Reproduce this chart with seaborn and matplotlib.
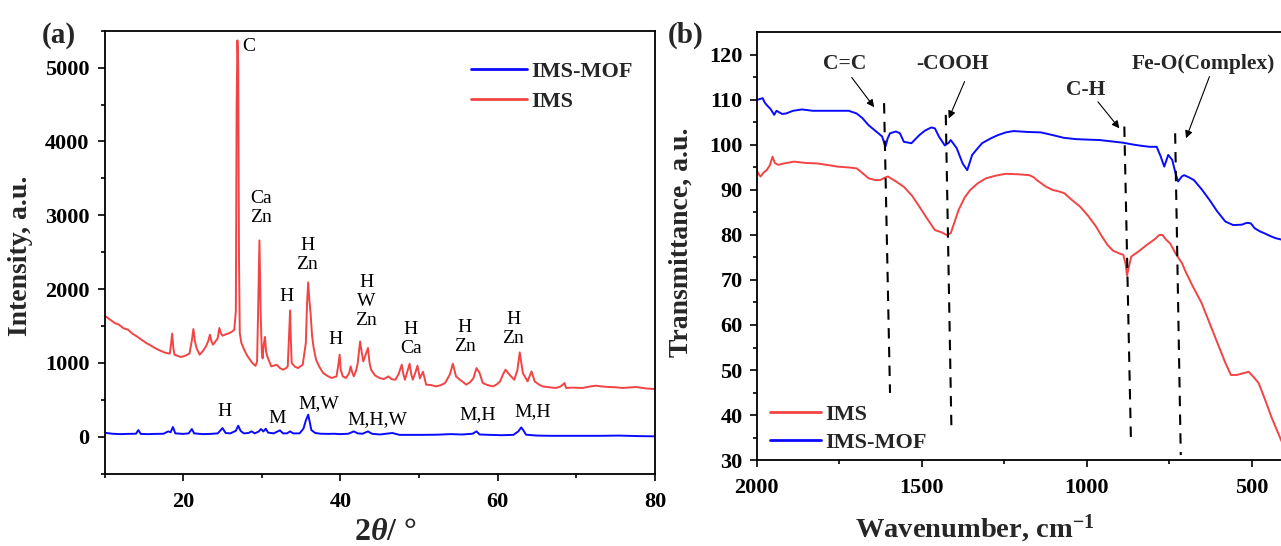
import matplotlib
matplotlib.use("Agg")
import matplotlib.pyplot as plt
from matplotlib.ticker import MultipleLocator, FixedLocator
import numpy as np
import pandas as pd
import seaborn as sns

# ---------------- XRD data (panel a) ----------------
ims_2theta = [10.0, 10.25, 10.8, 11.3, 11.8, 12.4, 13.0, 13.5, 14.1, 14.7, 15.3, 15.9, 16.4, 17.0,
              17.6, 18.3, 18.45, 18.6, 18.75, 18.9, 19.3, 19.7, 20.2, 20.8, 21.1, 21.3, 21.5, 21.7,
              22.1, 22.5, 22.9, 23.2, 23.4, 23.6, 23.8, 24.1, 24.4, 24.6, 24.8, 25.0, 25.5, 25.9,
              26.3, 26.5, 26.7, 26.8, 26.9, 27.0, 27.1, 27.2, 27.4, 27.8, 28.2, 28.8, 29.2, 29.4,
              29.55, 29.7, 29.85, 30.0, 30.1, 30.25, 30.4, 30.55, 30.7, 31.2, 31.9, 32.3, 32.7, 33.1,
              33.3, 33.45, 33.6, 33.7, 33.8, 34.2, 34.6, 35.2, 35.6, 35.75, 35.9, 36.05, 36.2, 36.4,
              36.6, 36.9, 37.3, 37.8, 38.4, 38.9, 39.5, 39.7, 39.9, 40.05, 40.3, 40.7, 41.1, 41.3,
              41.5, 41.7, 42.0, 42.2, 42.5, 42.7, 42.9, 43.2, 43.5, 43.7, 43.9, 44.4, 45.0, 45.5,
              46.1, 46.5, 47.0, 47.4, 47.8, 48.0, 48.2, 48.5, 48.8, 49.0, 49.2, 49.5, 49.8, 50.1,
              50.5, 50.9, 51.5, 52.2, 52.8, 53.3, 53.9, 54.3, 54.7, 55.2, 55.6, 56.0, 56.5, 56.9,
              57.3, 57.7, 58.1, 58.7, 59.4, 59.9, 60.3, 60.7, 61.0, 61.5, 62.1, 62.5, 62.8, 63.2,
              63.8, 64.3, 64.7, 65.2, 65.7, 66.5, 67.4, 68.0, 68.5, 68.7, 69.5, 70.8, 71.7, 72.5,
              73.3, 74.2, 75.0, 75.9, 76.8, 77.6, 78.8, 79.9, 80.0]
ims_intensity = [1640, 1622, 1580, 1540, 1520, 1470, 1450, 1400, 1360, 1314, 1270, 1235, 1202, 1170,
                 1142, 1125, 1250, 1396, 1200, 1111, 1095, 1080, 1095, 1125, 1300, 1459, 1290, 1202,
                 1111, 1160, 1224, 1300, 1382, 1290, 1247, 1290, 1337, 1473, 1400, 1369, 1390, 1405,
                 1430, 1450, 1700, 4500, 5370, 5050, 2400, 1405, 1270, 1170, 1088, 999, 960, 1020,
                 1800, 2660, 1700, 1150, 1061, 1250, 1351, 1150, 1088, 953, 975, 930, 908, 930,
                 953, 1350, 1711, 1300, 999, 950, 930, 975, 1270, 1800, 2091, 1850, 1676, 1359,
                 1200, 1043, 950, 863, 820, 795, 818, 950, 1111, 900, 818, 795, 860, 953,
                 870, 818, 900, 999, 1291, 1150, 1020, 1111, 1202, 1000, 908, 830, 795, 780,
                 817, 780, 772, 850, 976, 850, 772, 880, 989, 850, 772, 860, 962, 790,
                 880, 705, 700, 682, 700, 727, 840, 989, 817, 772, 740, 705, 740, 790,
                 930, 862, 727, 700, 682, 710, 750, 850, 908, 840, 772, 900, 1142, 862,
                 750, 885, 750, 710, 682, 670, 660, 680, 727, 660, 665, 660, 680, 691,
                 680, 673, 670, 660, 668, 673, 655, 646, 645]

mof_2theta = [10.0, 10.25, 11.0, 12.0, 13.0, 14.0, 14.3, 14.6, 15.5, 16.5, 17.5, 18.1, 18.4, 18.7,
              19.0, 20.0, 20.7, 21.1, 21.4, 22.5, 23.5, 24.4, 25.0, 25.4, 26.0, 26.7, 27.0, 27.3,
              27.7, 28.3, 28.7, 29.1, 29.6, 29.9, 30.2, 30.5, 30.8, 31.5, 32.3, 32.7, 33.2, 33.6,
              34.0, 34.8, 35.3, 35.6, 35.9, 36.1, 36.3, 36.8, 37.5, 38.5, 39.2, 40.0, 41.0, 41.7,
              42.2, 42.8, 43.5, 44.0, 45.0, 46.6, 47.5, 49.0, 50.5, 52.2, 54.0, 55.5, 56.8, 57.3,
              57.7, 59.0, 60.5, 62.0, 62.6, 63.0, 63.3, 63.6, 65.0, 67.0, 70.0, 73.0, 75.5, 78.0,
              80.0]
mof_intensity = [45, 50, 40, 35, 38, 40, 90, 38, 35, 38, 40, 72, 60, 131,
                 45, 38, 45, 104, 45, 35, 38, 45, 117, 50, 45, 80, 149, 80,
                 45, 50, 72, 45, 70, 104, 70, 108, 55, 45, 86, 45, 45, 72,
                 45, 45, 110, 220, 298, 200, 90, 50, 40, 38, 40, 35, 40, 72,
                 45, 40, 72, 40, 30, 50, 25, 25, 25, 27, 35, 30, 40, 72,
                 30, 25, 20, 25, 70, 126, 80, 27, 15, 12, 12, 12, 15, 8,
                 5]

# phase labels: (text, 2theta, intensity at block centre)
xrd_labels = [("C", 28.3, 5285), ("Ca\nZn", 29.9, 3100), ("H\nZn", 35.8, 2465),
              ("H", 33.1, 1905), ("H", 39.4, 1312), ("H\nW\nZn", 43.3, 1835),
              ("H\nCa", 48.95, 1320), ("H\nZn", 55.8, 1345), ("H\nZn", 62.0, 1460),
              ("H", 25.3, 335), ("M", 31.9, 252), ("M,W", 37.3, 455),
              ("M,H,W", 44.7, 238), ("M,H", 57.4, 300), ("M,H", 64.4, 340)]

# ---------------- FTIR data (panel b) ----------------
mof_wn = [2000, 1982, 1976, 1970, 1958, 1947, 1940, 1935, 1923, 1911, 1890, 1863, 1830, 1792,
          1750, 1721, 1697, 1680, 1661, 1638, 1620, 1610, 1603, 1596, 1578, 1566, 1554, 1531,
          1507, 1490, 1471, 1460, 1448, 1430, 1418, 1412, 1394, 1376, 1362, 1347, 1330, 1317,
          1290, 1269, 1245, 1222, 1180, 1139, 1103, 1070, 1032, 1000, 961, 925, 889, 860,
          842, 810, 788, 776, 765, 753, 741, 730, 723, 712, 705, 690, 675, 650,
          628, 605, 580, 556, 530, 515, 503, 491, 475, 462, 445, 428, 400]
mof_trans = [110.0, 110.4, 109.5, 108.9, 108.0, 106.7, 107.6, 107.4, 106.9, 107.0, 107.6, 107.9, 107.6, 107.6,
             107.6, 107.6, 107.0, 106.0, 104.4, 103.0, 101.9, 99.6, 101.5, 102.6, 103.0, 102.6, 100.7, 100.4,
             102.2, 103.2, 103.9, 103.7, 101.9, 99.9, 100.5, 101.1, 99.3, 95.9, 94.4, 97.8, 99.3, 100.4,
             101.5, 102.2, 102.8, 103.1, 102.9, 102.8, 102.2, 101.6, 101.3, 101.2, 101.1, 100.8, 100.5, 100.1,
             99.9, 99.6, 99.6, 97.5, 95.2, 97.8, 96.7, 93.5, 91.9, 93.0, 93.3, 92.8, 92.2, 90.0,
             87.8, 85.3, 83.0, 82.2, 82.3, 82.7, 82.6, 81.5, 80.8, 80.4, 79.8, 79.3, 78.8]

ims_wn = [2000, 1994, 1988, 1980, 1970, 1960, 1952, 1945, 1935, 1910, 1887, 1850, 1816, 1780,
          1756, 1720, 1697, 1680, 1661, 1640, 1626, 1610, 1602, 1580, 1554, 1530, 1507, 1485,
          1460, 1440, 1424, 1412, 1400, 1388, 1370, 1353, 1330, 1305, 1275, 1246, 1210, 1174,
          1160, 1151, 1125, 1103, 1085, 1068, 1045, 1020, 995, 972, 955, 937, 920, 901,
          889, 882, 878, 872, 865, 840, 818, 795, 780, 770, 760, 747, 730, 711,
          700, 680, 652, 620, 580, 563, 545, 525, 509, 495, 479, 460, 440, 428, 400]
ims_trans = [94.4, 93.5, 93.0, 93.8, 94.4, 95.5, 97.4, 96.0, 95.6, 96.0, 96.3, 96.0, 95.9, 95.5,
             95.2, 95.0, 94.8, 93.8, 92.6, 92.2, 92.2, 92.8, 93.0, 92.0, 90.7, 88.8, 86.3, 83.8,
             81.1, 80.6, 80.0, 80.4, 83.0, 85.6, 88.3, 90.0, 91.5, 92.6, 93.2, 93.6, 93.5, 93.3,
             92.8, 92.2, 90.8, 90.0, 89.7, 89.3, 87.8, 86.3, 84.2, 81.9, 79.8, 77.8, 76.5, 75.9,
             75.6, 73.5, 71.0, 73.0, 75.2, 76.5, 77.8, 79.0, 80.0, 80.0, 79.0, 78.1, 75.8, 73.7,
             71.8, 68.8, 64.9, 59.0, 51.6, 48.9, 48.9, 49.3, 49.6, 48.5, 47.1, 43.5, 39.5, 37.4, 32.5]

# band marker lines (top / bottom ends)
band_names = ["C=C", "-COOH", "C-H", "Fe-O(Complex)"]
band_wn_top = [1614, 1427, 886, 732]
band_wn_bottom = [1596, 1410, 866, 715]
band_t_top = [109.3, 106.7, 104.1, 102.6]
band_t_bottom = [44.9, 37.3, 34.4, 31.1]

# band label placement: text anchor, arrow tail, arrow tip
band_text_xy = [(1733, 118.1), (1406, 118.1), (1002, 112.2), (865, 118.1)]
band_text_ha = ["center", "center", "center", "left"]
band_arrow_tail = [(1712, 115.0), (1370, 114.1), (966, 109.6), (628, 115.2)]
band_arrow_tip = [(1644, 108.4), (1418, 105.9), (901, 103.7), (699, 101.5)]

RED = "#f24444"
BLUE = "#0a0aff"

sns.set_theme(style="ticks")
plt.rcParams["font.family"] = ["Liberation Serif", "DejaVu Serif"]
plt.rcParams.update({
    "font.weight": "bold",
    "axes.labelweight": "bold",
    "mathtext.fontset": "custom",
    "mathtext.rm": "Liberation Serif:bold",
    "mathtext.bf": "Liberation Serif:bold",
    "mathtext.it": "Liberation Serif:italic:bold",
    "axes.linewidth": 1.3,
    "axes.edgecolor": "black",
    "xtick.direction": "out",
    "ytick.direction": "out",
    "xtick.major.size": 5, "ytick.major.size": 5,
    "xtick.minor.size": 3, "ytick.minor.size": 3,
    "xtick.major.width": 1.2, "ytick.major.width": 1.2,
    "xtick.minor.width": 1.2, "ytick.minor.width": 1.2,
    "xtick.color": "black", "ytick.color": "black",
})

fig = plt.figure(figsize=(12.81, 5.46), dpi=100)
ax_a = fig.add_axes([0.0816, 0.1326, 0.4297, 0.811])
ax_b = fig.add_axes([0.5907, 0.1575, 0.4122, 0.783])

# ---- panel (a): XRD ----
xrd_mof = pd.DataFrame({"two_theta": mof_2theta, "intensity": mof_intensity})
xrd_ims = pd.DataFrame({"two_theta": ims_2theta, "intensity": ims_intensity})
sns.lineplot(data=xrd_mof, x="two_theta", y="intensity", ax=ax_a, color=BLUE, lw=1.4,
             label="IMS-MOF", errorbar=None)
sns.lineplot(data=xrd_ims, x="two_theta", y="intensity", ax=ax_a, color=RED, lw=1.4,
             label="IMS", errorbar=None)

ax_a.set_xlim(10, 80)
ax_a.set_ylim(-500, 5500)
ax_a.xaxis.set_major_locator(FixedLocator([20, 40, 60, 80]))
ax_a.xaxis.set_minor_locator(FixedLocator([10, 30, 50, 70]))
ax_a.yaxis.set_major_locator(MultipleLocator(1000))
ax_a.yaxis.set_minor_locator(MultipleLocator(500))
ax_a.tick_params(axis="y", which="major", labelsize=16, pad=6)
ax_a.tick_params(axis="x", which="major", labelsize=16, pad=8)
ax_a.set_xlabel("2$\\mathit{\\theta}$/ °", fontsize=23)
ax_a.set_ylabel("Intensity, a.u.", fontsize=20)
ax_a.xaxis.set_label_coords(0.511, -0.101)
ax_a.yaxis.set_label_coords(-0.130, 0.491)

for txt, xv, yv in xrd_labels:
    ax_a.text(xv, yv, txt, ha="center", va="center", fontsize=14, fontweight="normal",
              linespacing=1.15, color="black")

leg_a = ax_a.legend(loc="upper left", bbox_to_anchor=(0.665, 0.931), frameon=False,
                    fontsize=16, handlelength=2.55, handletextpad=0.2, labelspacing=0.43,
                    borderpad=0, borderaxespad=0)
for ln in leg_a.get_lines():
    ln.set_linewidth(2.0)

fig.text(0.046, 0.935, "(a)", fontsize=21, fontweight="bold", ha="center", va="center")

# ---- panel (b): FTIR ----
ftir_ims = pd.DataFrame({"wavenumber": ims_wn, "transmittance": ims_trans})
ftir_mof = pd.DataFrame({"wavenumber": mof_wn, "transmittance": mof_trans})
sns.lineplot(data=ftir_ims, x="wavenumber", y="transmittance", ax=ax_b, color=RED, lw=1.4,
             label="IMS", errorbar=None)
sns.lineplot(data=ftir_mof, x="wavenumber", y="transmittance", ax=ax_b, color=BLUE, lw=1.4,
             label="IMS-MOF", errorbar=None)

for i in range(len(band_names)):
    ax_b.plot([band_wn_top[i], band_wn_bottom[i]], [band_t_top[i], band_t_bottom[i]],
              color="black", lw=1.5, dashes=(5, 4))
    ax_b.text(band_text_xy[i][0], band_text_xy[i][1], band_names[i], ha=band_text_ha[i],
              va="center", fontsize=15.5, fontweight="bold")
    ax_b.annotate("", xy=band_arrow_tip[i], xytext=band_arrow_tail[i],
                  arrowprops=dict(arrowstyle="-|>", color="black", lw=0.8,
                                  mutation_scale=11, shrinkA=0, shrinkB=0))

ax_b.set_xlim(2000, 400)
ax_b.set_ylim(30, 125)
ax_b.xaxis.set_major_locator(FixedLocator([2000, 1500, 1000, 500]))
ax_b.xaxis.set_minor_locator(FixedLocator([1750, 1250, 750]))
ax_b.yaxis.set_major_locator(FixedLocator([30, 40, 50, 60, 70, 80, 90, 100, 110, 120]))
ax_b.yaxis.set_minor_locator(FixedLocator([35, 45, 55, 65, 75, 85, 95, 105, 115]))
ax_b.tick_params(axis="y", which="major", labelsize=16, pad=5)
ax_b.tick_params(axis="x", which="major", labelsize=16, pad=8)
ax_b.set_xlabel("Wavenumber, cm$^{\\mathbf{-1}}$", fontsize=20.5)
ax_b.set_ylabel("Transmittance, a.u.", fontsize=20)
ax_b.xaxis.set_label_coords(0.4125, -0.124)
ax_b.yaxis.set_label_coords(-0.119, 0.509)

leg_b = ax_b.legend(loc="upper left", bbox_to_anchor=(0.025, 0.131), frameon=False,
                    fontsize=16, handlelength=2.3, handletextpad=0.2, labelspacing=0.34,
                    borderpad=0, borderaxespad=0)
for ln in leg_b.get_lines():
    ln.set_linewidth(2.0)

fig.text(0.535, 0.935, "(b)", fontsize=21, fontweight="bold", ha="center", va="center")

fig.savefig("out.png", dpi=100)
